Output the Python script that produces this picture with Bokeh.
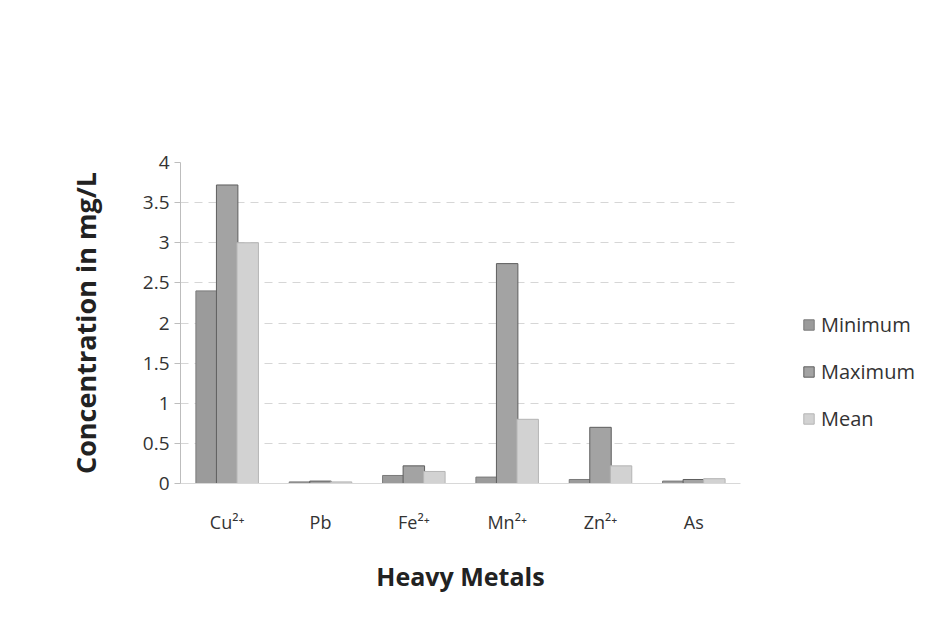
from bokeh.plotting import figure
from bokeh.models import ColumnDataSource, FactorRange, Legend, LegendItem, SingleIntervalTicker
from bokeh.transform import dodge
from bokeh.embed import file_html
from bokeh.resources import INLINE

metals = ["Cu²⁺", "Pb", "Fe²⁺", "Mn²⁺", "Zn²⁺", "As"]
minimum = [2.4, 0.02, 0.1, 0.08, 0.05, 0.03]
maximum = [3.72, 0.03, 0.22, 2.74, 0.7, 0.05]
mean = [3.0, 0.02, 0.15, 0.8, 0.22, 0.06]

src = ColumnDataSource(dict(metal=metals, minimum=minimum, maximum=maximum, mean=mean))

FONT = "Open Sans"
p = figure(frame_width=560, frame_height=321, x_range=FactorRange(*metals), y_range=(0, 4.0),
           output_backend="svg", toolbar_location=None,
           min_border_left=180, min_border_right=5, min_border_top=162, min_border_bottom=131)
p.outline_line_color = None

w = 0.23
r1 = p.vbar(x=dodge("metal", -0.22, range=p.x_range), top="minimum", width=w, source=src,
            fill_color="#9b9b9b", line_color="#7a7a7a")
r2 = p.vbar(x=dodge("metal", 0.0, range=p.x_range), top="maximum", width=w, source=src,
            fill_color="#a3a3a3", line_color="#5e5e5e")
r3 = p.vbar(x=dodge("metal", 0.22, range=p.x_range), top="mean", width=w, source=src,
            fill_color="#d2d2d2", line_color="#b5b5b5")

p.yaxis.ticker = SingleIntervalTicker(interval=0.5)
p.yaxis.minor_tick_line_color = None
p.yaxis.major_tick_in = 0
p.yaxis.major_tick_out = 6
p.yaxis.axis_line_color = "#bdbdbd"
p.yaxis.major_tick_line_color = "#bdbdbd"
p.yaxis.major_label_text_font = FONT
p.yaxis.major_label_text_font_size = "19px"
p.yaxis.major_label_text_color = "#333333"
p.yaxis.axis_label = "Concentration in mg/L"
p.yaxis.axis_label_text_font = FONT
p.yaxis.axis_label_text_font_size = "27px"
p.yaxis.axis_label_text_font_style = "bold"
p.yaxis.axis_label_text_color = "#222222"
p.yaxis.axis_label_standoff = 36

p.xaxis.axis_line_color = "#d8d8d8"
p.xaxis.major_tick_line_color = None
p.xaxis.minor_tick_line_color = None
p.xaxis.major_label_text_font = FONT
p.xaxis.major_label_text_font_size = "18px"
p.xaxis.major_label_text_color = "#333333"
p.xaxis.major_label_standoff = 20
p.xaxis.axis_label = "Heavy Metals"
p.xaxis.axis_label_text_font = FONT
p.xaxis.axis_label_text_font_size = "25px"
p.xaxis.axis_label_text_font_style = "bold"
p.xaxis.axis_label_text_color = "#222222"
p.xaxis.axis_label_standoff = 22

p.xgrid.grid_line_color = None
p.ygrid.grid_line_color = "#d6d6d6"
p.ygrid.grid_line_dash = "8 6"

legend = Legend(items=[LegendItem(label="Minimum", renderers=[r1]),
                       LegendItem(label="Maximum", renderers=[r2]),
                       LegendItem(label="Mean", renderers=[r3])],
                location=(62, 51))
legend.border_line_color = None
legend.background_fill_alpha = 0
legend.margin = 0
legend.padding = 10
legend.label_text_font = FONT
legend.label_text_font_size = "20px"
legend.label_text_color = "#333333"
legend.glyph_width = 13
legend.glyph_height = 13
legend.spacing = 20
legend.label_standoff = 6
p.add_layout(legend, "right")

open("out.html", "w").write(file_html(p, INLINE))
